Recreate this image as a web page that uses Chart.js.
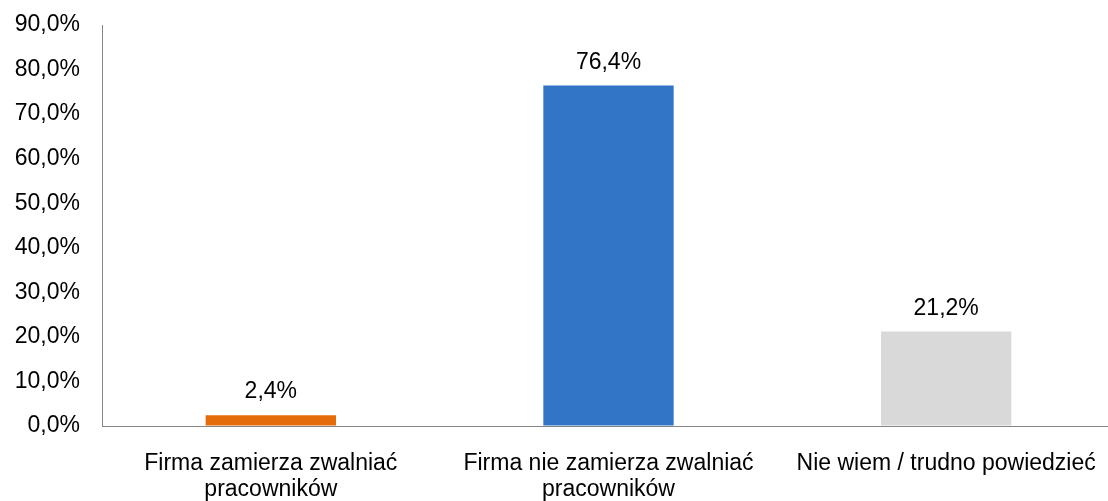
<!DOCTYPE html>
<html>
<head>
<meta charset="utf-8">
<script src="https://cdn.jsdelivr.net/npm/chart.js@4/dist/chart.umd.min.js"></script>
<style>
  html, body { margin: 0; padding: 0; background: #fff; overflow: hidden; }
  canvas { display: block; }
</style>
</head>
<body>
<canvas id="c" width="1115" height="501" style="width:1115px;height:501px"></canvas>
<script>
const categories = [
  ['Firma zamierza zwalniać', 'pracowników'],
  ['Firma nie zamierza zwalniać', 'pracowników'],
  'Nie wiem / trudno powiedzieć'
];
const values = [2.4, 76.4, 21.2];
const barColors = ['#E46C0A', '#3274C6', '#D9D9D9'];
const yMin = 0, yMax = 90, yStep = 10;

const FONT = 'Liberation Sans, Arial, sans-serif';
const fmt = v => v.toFixed(1).replace('.', ',') + '%';

const valueLabels = {
  id: 'valueLabels',
  afterDatasetsDraw(chart) {
    const ctx = chart.ctx;
    const meta = chart.getDatasetMeta(0);
    ctx.save();
    ctx.font = '23px ' + FONT;
    ctx.fillStyle = '#000';
    ctx.textAlign = 'center';
    ctx.textBaseline = 'alphabetic';
    meta.data.forEach((bar, i) => {
      ctx.fillText(fmt(values[i]), bar.x, bar.y - 17);
    });
    ctx.restore();
  }
};

new Chart(document.getElementById('c'), {
  type: 'bar',
  data: {
    labels: categories,
    datasets: [{
      data: values,
      backgroundColor: barColors,
      borderWidth: 0,
      categoryPercentage: 1,
      barPercentage: 0.386
    }]
  },
  options: {
    responsive: false,
    maintainAspectRatio: false,
    animation: false,
    layout: { padding: { top: 25, right: 0, left: 0, bottom: 0 } },
    plugins: { legend: { display: false }, tooltip: { enabled: false } },
    scales: {
      x: {
        grid: { display: true, drawOnChartArea: false, drawTicks: true, tickLength: 25,
                color: 'rgba(0,0,0,0)', tickColor: 'rgba(0,0,0,0)' },
        border: { display: true, color: '#868686', width: 1 },
        ticks: {
          color: '#000',
          font: { family: FONT, size: 23, lineHeight: 1.13 },
          padding: 0,
          autoSkip: false,
          maxRotation: 0,
          minRotation: 0
        },
        afterFit(scale) { scale.height = 75; }
      },
      y: {
        min: yMin, max: yMax,
        grid: { display: true, drawOnChartArea: false, drawTicks: true, tickLength: 22,
                color: 'rgba(0,0,0,0)', tickColor: 'rgba(0,0,0,0)' },
        border: { display: true, color: '#868686', width: 1 },
        ticks: {
          stepSize: yStep,
          color: '#000',
          font: { family: FONT, size: 23 },
          padding: 0,
          callback: v => fmt(v)
        },
        afterFit(scale) { scale.width = 102; }
      }
    }
  },
  plugins: [valueLabels]
});
</script>
</body>
</html>
